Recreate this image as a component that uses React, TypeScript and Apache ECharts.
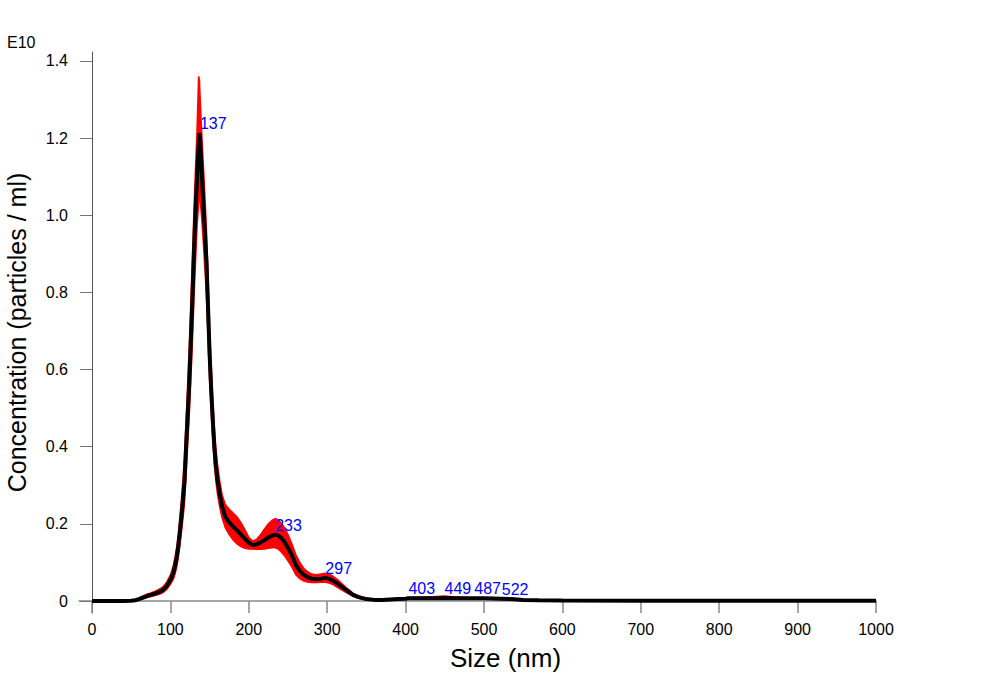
import React, { useEffect, useRef } from "react";
import * as echarts from "echarts";

// Size (nm) sample positions
const sizes = [0, 20, 40, 50, 55, 60, 65, 70, 75, 80, 85, 90, 95, 100, 102, 104, 106, 108, 110, 112, 114, 116, 118, 120, 122, 124, 126, 128, 130, 132, 134, 136, 137, 138, 140, 142, 144, 146, 148, 150, 152, 154, 156, 158, 160, 163, 166, 170, 175, 180, 185, 190, 195, 200, 205, 210, 215, 220, 225, 230, 234, 238, 242, 246, 250, 255, 260, 265, 270, 275, 280, 286, 292, 297, 302, 308, 314, 320, 326, 333, 340, 350, 360, 370, 380, 390, 400, 403, 420, 440, 449, 460, 475, 487, 500, 522, 535, 550, 570, 600, 700, 800, 900, 1000];

// Mean concentration (E10 particles / ml)
const meanConc = [0, 0, 0, 0.001, 0.002, 0.005, 0.009, 0.013, 0.016, 0.019, 0.023, 0.028, 0.038, 0.055, 0.064, 0.075, 0.092, 0.113, 0.141, 0.178, 0.218, 0.262, 0.31, 0.4, 0.48, 0.565, 0.67, 0.78, 0.9, 1.01, 1.1, 1.18, 1.213, 1.19, 1.11, 1.03, 0.955, 0.88, 0.76, 0.64, 0.55, 0.47, 0.4, 0.35, 0.315, 0.275, 0.245, 0.218, 0.204, 0.193, 0.183, 0.172, 0.161, 0.151, 0.145, 0.147, 0.152, 0.158, 0.165, 0.17, 0.172, 0.169, 0.162, 0.151, 0.138, 0.118, 0.093, 0.078, 0.068, 0.062, 0.058, 0.057, 0.058, 0.06, 0.058, 0.052, 0.044, 0.035, 0.026, 0.016, 0.01, 0.005, 0.003, 0.003, 0.004, 0.005, 0.006, 0.007, 0.007, 0.007, 0.008, 0.007, 0.007, 0.007, 0.007, 0.006, 0.005, 0.003, 0.002, 0.0015, 0.001, 0.001, 0.001, 0.001];

// Upper edge of the error band
const upperConc = [0, 0, 0, 0.002, 0.004, 0.008, 0.013, 0.018, 0.021, 0.025, 0.03, 0.036, 0.048, 0.068, 0.08, 0.095, 0.115, 0.14, 0.172, 0.215, 0.262, 0.315, 0.375, 0.47, 0.56, 0.66, 0.77, 0.89, 1.01, 1.12, 1.22, 1.36, 1.35, 1.3, 1.21, 1.13, 1.05, 0.96, 0.84, 0.71, 0.61, 0.52, 0.45, 0.395, 0.355, 0.31, 0.275, 0.25, 0.238, 0.228, 0.218, 0.203, 0.185, 0.165, 0.155, 0.16, 0.172, 0.187, 0.2, 0.21, 0.214, 0.21, 0.2, 0.188, 0.172, 0.148, 0.12, 0.1, 0.085, 0.076, 0.07, 0.068, 0.07, 0.072, 0.07, 0.063, 0.054, 0.043, 0.032, 0.02, 0.013, 0.007, 0.004, 0.004, 0.005, 0.006, 0.008, 0.009, 0.01, 0.012, 0.013, 0.011, 0.009, 0.008, 0.008, 0.007, 0.006, 0.004, 0.002, 0.0015, 0.001, 0.001, 0.001, 0.001];

// Lower edge of the error band
const lowerConc = [0, 0, 0, 0, 0.001, 0.003, 0.006, 0.009, 0.012, 0.014, 0.017, 0.021, 0.029, 0.043, 0.05, 0.058, 0.071, 0.088, 0.112, 0.142, 0.177, 0.214, 0.255, 0.33, 0.405, 0.48, 0.57, 0.67, 0.78, 0.88, 0.97, 1.03, 1.05, 1.04, 0.99, 0.93, 0.86, 0.79, 0.68, 0.57, 0.49, 0.42, 0.355, 0.31, 0.278, 0.242, 0.215, 0.19, 0.172, 0.158, 0.148, 0.141, 0.137, 0.135, 0.135, 0.134, 0.134, 0.135, 0.137, 0.138, 0.138, 0.134, 0.126, 0.116, 0.104, 0.088, 0.068, 0.058, 0.052, 0.049, 0.048, 0.048, 0.049, 0.049, 0.047, 0.042, 0.034, 0.027, 0.02, 0.012, 0.007, 0.003, 0.002, 0.002, 0.003, 0.004, 0.005, 0.005, 0.005, 0.005, 0.005, 0.005, 0.005, 0.006, 0.006, 0.005, 0.004, 0.002, 0.001, 0.001, 0.001, 0.001, 0.001, 0.001];

// Peak annotations
const peakSizes = [137, 233, 297, 403, 449, 487, 522];
const peakHeights = [1.213, 0.172, 0.06, 0.007, 0.008, 0.007, 0.006];

const xTicks = [0, 100, 200, 300, 400, 500, 600, 700, 800, 900, 1000];
const yTicks = [0, 0.2, 0.4, 0.6, 0.8, 1.0, 1.2, 1.4];

const FONT = "Liberation Sans, Arial, Helvetica, sans-serif";

export default function App() {
  const ref = useRef<HTMLDivElement>(null);

  useEffect(() => {
    if (!ref.current) return;
    const chart = echarts.init(ref.current, undefined, { renderer: "svg" });

    const meanData = sizes.map((s, i) => [s, meanConc[i]]);
    const peakData = peakSizes.map((s, i) => [s, peakHeights[i]]);

    const option: any = {
      animation: false,
      backgroundColor: "#ffffff",
      textStyle: { fontFamily: FONT },
      grid: {
        left: 79,
        right: 120,
        top: 52,
        bottom: 73,
        containLabel: false,
        outerBoundsMode: "none",
      },
      graphic: [
        {
          type: "text",
          left: 7,
          top: 34,
          style: { text: "E10", fontSize: 16, fontFamily: FONT, fill: "#000" },
        },
      ],
      xAxis: {
        type: "value",
        min: -16.6,
        max: 1000,
        name: "Size (nm)",
        nameLocation: "middle",
        nameGap: 32,
        nameTextStyle: { fontSize: 26, color: "#000", fontFamily: FONT, padding: [0, 0, 0, 56] },
        axisLine: { show: true, onZero: true, lineStyle: { color: "#8a8a8a", width: 1.5 } },
        axisTick: { show: true, length: 12, customValues: xTicks, lineStyle: { color: "#8a8a8a", width: 1.5 } },
        axisLabel: {
          customValues: xTicks,
          fontSize: 16,
          color: "#000",
          margin: 8,
          fontFamily: FONT,
          formatter: (v: number) => String(v),
        },
        splitLine: { show: false },
      },
      yAxis: {
        type: "value",
        min: -0.031,
        max: 1.423,
        name: "Concentration (particles / ml)",
        nameLocation: "middle",
        nameGap: 50,
        nameTextStyle: { fontSize: 25, color: "#000", fontFamily: FONT },
        axisLine: { show: true, onZero: true, lineStyle: { color: "#555", width: 1 } },
        axisTick: { show: true, length: 12, customValues: yTicks, lineStyle: { color: "#777", width: 1 } },
        axisLabel: {
          customValues: yTicks,
          fontSize: 16,
          color: "#000",
          margin: 11,
          fontFamily: FONT,
          formatter: (v: number) => (v === 0 ? "0" : v.toFixed(1)),
        },
        splitLine: { show: false },
      },
      series: [
        {
          type: "custom",
          name: "band",
          silent: true,
          clip: true,
          data: [[0, 0]],
          renderItem: (params: any, api: any) => {
            const pts: number[][] = [];
            for (let i = 0; i < sizes.length; i++) pts.push(api.coord([sizes[i], upperConc[i]]));
            for (let i = sizes.length - 1; i >= 0; i--) pts.push(api.coord([sizes[i], lowerConc[i]]));
            return {
              type: "polygon",
              shape: { points: pts },
              style: { fill: "#ff0000", stroke: "#ff0000", lineWidth: 1.5 },
            };
          },
          z: 2,
        },
        {
          type: "line",
          name: "mean",
          data: meanData,
          showSymbol: false,
          symbol: "none",
          smooth: false,
          lineStyle: { color: "#000", width: 4 },
          z: 3,
        },
        {
          type: "scatter",
          name: "peaks",
          data: peakData,
          symbolSize: 1,
          itemStyle: { color: "rgba(0,0,0,0)", opacity: 1 },
          silent: true,
          label: {
            show: true,
            position: [1, -17],
            formatter: (p: any) => String(p.value[0]),
            color: "#0000ff",
            opacity: 1,
            fontSize: 16,
            fontFamily: FONT,
          },
          labelLayout: { hideOverlap: false },
          z: 4,
        },
      ],
    };

    chart.setOption(option);
    return () => chart.dispose();
  }, []);

  return (
    <div
      ref={ref}
      style={{ position: "fixed", left: 0, top: 0, width: 996, height: 686, background: "#fff" }}
    />
  );
}
